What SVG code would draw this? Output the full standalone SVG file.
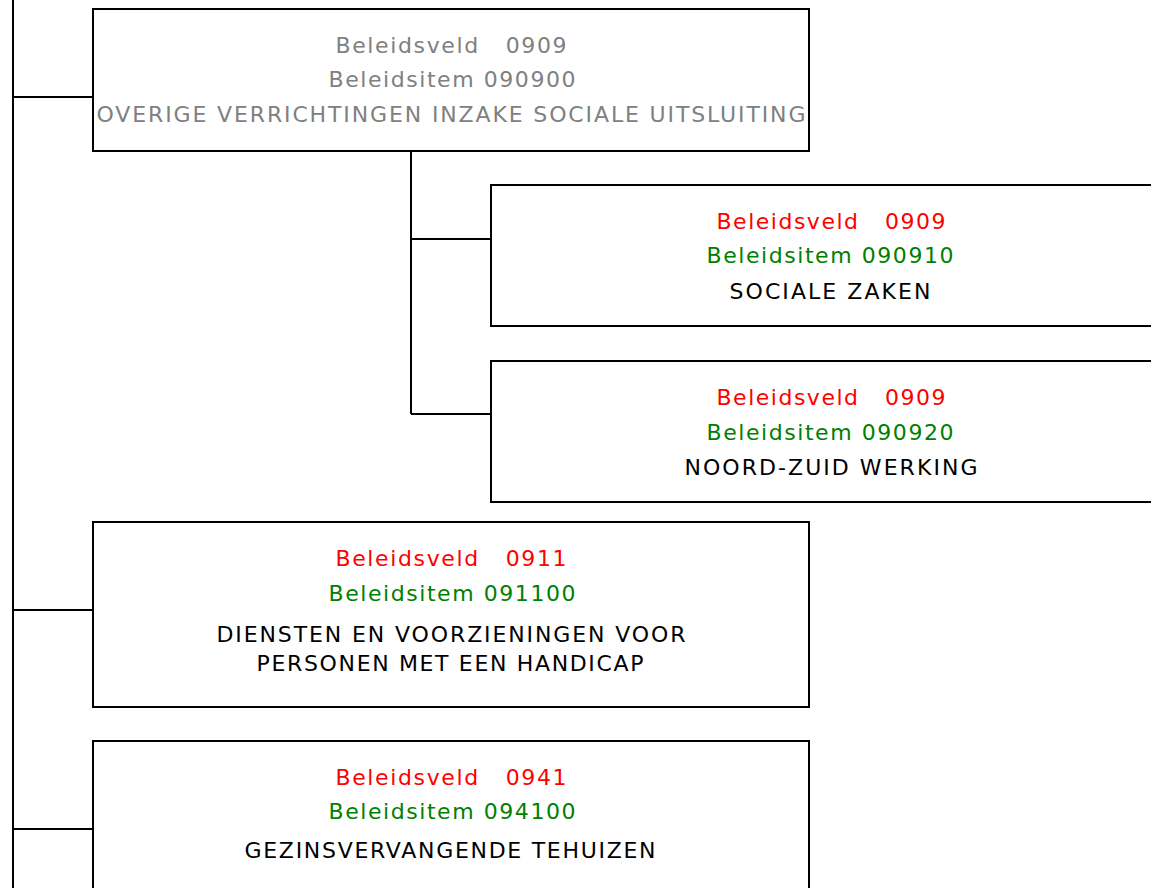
<svg xmlns="http://www.w3.org/2000/svg" width="1151" height="888" viewBox="0 0 1151 888">
<style>
.box{fill:#fff;stroke:#000;stroke-width:2}
.ln{stroke:#000;stroke-width:2;fill:none}
text{font-family:"DejaVu Sans",Verdana,sans-serif;font-size:22px;text-anchor:middle;white-space:pre}
.g{fill:#808080}.r{fill:#ff0000}.gr{fill:#008000}.k{fill:#000}
</style>
<rect width="1151" height="888" fill="#fff"/>
<g id="connectors">
<path class="ln" d="M13,0V888M13,97H93M13,610H93M13,829H93M411,151V414M411,239H491M411,414H491"/>
</g>
<g id="n090900">
<rect class="box" x="93" y="9" width="716" height="142"/>
<text class="g" x="451" y="53" xml:space="preserve" textLength="231" lengthAdjust="spacing">Beleidsveld   0909</text>
<text class="g" x="452" y="87" textLength="247" lengthAdjust="spacing">Beleidsitem 090900</text>
<text class="g" x="451" y="122" textLength="709" lengthAdjust="spacing">OVERIGE VERRICHTINGEN INZAKE SOCIALE UITSLUITING</text>
</g>
<g id="n090910">
<rect class="box" x="491" y="185" width="700" height="141"/>
<text class="r" x="831" y="229" xml:space="preserve" textLength="229" lengthAdjust="spacing">Beleidsveld   0909</text>
<text class="gr" x="830" y="263" textLength="247" lengthAdjust="spacing">Beleidsitem 090910</text>
<text class="k" x="830" y="299" textLength="201" lengthAdjust="spacing">SOCIALE ZAKEN</text>
</g>
<g id="n090920">
<rect class="box" x="491" y="361" width="700" height="141"/>
<text class="r" x="831" y="405" xml:space="preserve" textLength="229" lengthAdjust="spacing">Beleidsveld   0909</text>
<text class="gr" x="830" y="440" textLength="247" lengthAdjust="spacing">Beleidsitem 090920</text>
<text class="k" x="831" y="475" textLength="293" lengthAdjust="spacing">NOORD-ZUID WERKING</text>
</g>
<g id="n091100">
<rect class="box" x="93" y="522" width="716" height="185"/>
<text class="r" x="451" y="566" xml:space="preserve" textLength="231" lengthAdjust="spacing">Beleidsveld   0911</text>
<text class="gr" x="452" y="601" textLength="247" lengthAdjust="spacing">Beleidsitem 091100</text>
<text class="k" x="451" y="642" textLength="469" lengthAdjust="spacing">DIENSTEN EN VOORZIENINGEN VOOR</text>
<text class="k" x="450" y="671" textLength="387" lengthAdjust="spacing">PERSONEN MET EEN HANDICAP</text>
</g>
<g id="n094100">
<rect class="box" x="93" y="741" width="716" height="180"/>
<text class="r" x="451" y="785" xml:space="preserve" textLength="231" lengthAdjust="spacing">Beleidsveld   0941</text>
<text class="gr" x="452" y="819" textLength="247" lengthAdjust="spacing">Beleidsitem 094100</text>
<text class="k" x="450" y="858" textLength="411" lengthAdjust="spacing">GEZINSVERVANGENDE TEHUIZEN</text>
</g>
</svg>
